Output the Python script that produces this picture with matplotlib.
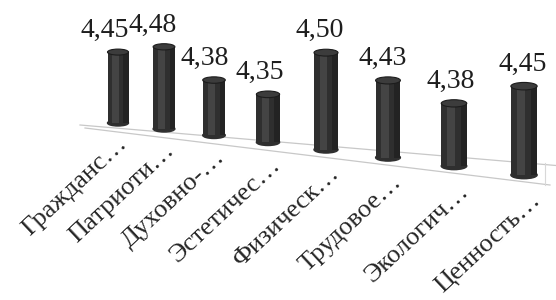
import matplotlib
matplotlib.use('Agg')
from matplotlib import pyplot as plt
from matplotlib.patches import Ellipse
import numpy as np

categories = ['Гражданс…', 'Патриоти…', 'Духовно-…', 'Эстетичес…',
              'Физическ…', 'Трудовое…', 'Экологич…', 'Ценность…']
values = [4.45, 4.48, 4.38, 4.35, 4.50, 4.43, 4.38, 4.45]
value_labels = ['4,45', '4,48', '4,38', '4,35', '4,50', '4,43', '4,38', '4,45']

plt.rcParams['font.family'] = ['Liberation Serif', 'DejaVu Serif']

W, H = 556, 300
fig = plt.figure(figsize=(W / 100, H / 100), dpi=100)
ax = fig.add_axes([0, 0, 1, 1])

# fake 3D: axis in value units, 277 px per unit, floor at 4.194
base = 4.194
ppu = 277.0
ax.set_xlim(0, W)
ax.set_ylim(base - (H - 123) / ppu, base + 123 / ppu)
ax.axis('off')

def px_y(p):
    # pixel row (from top) -> data y
    return base - (p - 123) / ppu

# floor plane (faint lines)
ax.plot([80, 556], [px_y(125), px_y(165.5)], color='#c8c8c8', lw=0.9)
ax.plot([85, 550], [px_y(128), px_y(185)], color='#c8c8c8', lw=0.9)
ax.plot([545, 545], [px_y(163), px_y(185)], color='#d8d8d8', lw=0.8)

idx = np.arange(len(values))
pos = 118 + 46 * idx + 2 * idx * (idx - 1)
scale = 1 + 0.036 * idx
bottoms = base - 0.128 * (pos - 118) / ppu
heights = (np.array(values) - base) * scale
widths = 21 * scale

body = '#2f2f2f'
ax.bar(pos, heights, bottom=bottoms, width=widths, color=body, zorder=3)
ax.bar(pos - widths * 0.12, heights, bottom=bottoms, width=widths * 0.3,
       color='#444444', zorder=3)
ax.bar(pos + widths * 0.38, heights, bottom=bottoms, width=widths * 0.24,
       color='#232323', zorder=3)
for i in idx:
    eh = 6 * scale[i] / ppu
    ax.add_patch(Ellipse((pos[i], bottoms[i]), widths[i], eh, color=body, zorder=2.9))
    ax.add_patch(Ellipse((pos[i], bottoms[i] + heights[i]), widths[i], eh,
                         facecolor='#3c3c3c', edgecolor='#1c1c1c', lw=0.8, zorder=4))
    ax.annotate(value_labels[i], (pos[i], bottoms[i] + heights[i]),
                xytext=((-13 + 1.6 * i) * 0.72, 11), textcoords='offset points',
                ha='center', va='baseline', fontsize=20, color='#1e1e1e', zorder=5)
    ax.annotate(categories[i], (pos[i], bottoms[i]),
                xytext=((10 + 1.0 * i) * 0.72, -(22 + 0.7 * i) * 0.72),
                textcoords='offset points', ha='right', va='baseline',
                rotation=43, rotation_mode='anchor', fontsize=19, color='#262626')

fig.savefig('out.png', dpi=100)
